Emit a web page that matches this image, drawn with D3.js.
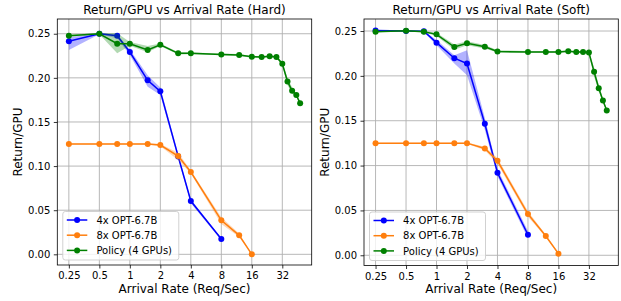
<!DOCTYPE html>
<html>
<head>
<meta charset="utf-8">
<script src="https://cdn.jsdelivr.net/npm/d3@7"></script>
<style>
  html, body { margin: 0; padding: 0; background: #fff; }
  svg { display: block; font-family: "DejaVu Sans", sans-serif; }
</style>
</head>
<body>
<svg id="chart" width="621" height="301"></svg>
<script>
// ---------- data ----------
const xTicks = [0.25, 0.5, 1, 2, 4, 8, 16, 32];
const xTickLabels = ["0.25", "0.5", "1", "2", "4", "8", "16", "32"];
const yTicks = [0, 0.05, 0.10, 0.15, 0.20, 0.25];
const yTickLabels = ["0.00", "0.05", "0.10", "0.15", "0.20", "0.25"];

const seriesNames = ["4x OPT-6.7B", "8x OPT-6.7B", "Policy (4 GPUs)"];
const seriesColors = ["#0000ff", "#ff7f0e", "#008000"];

const rates4x = [0.25, 0.5, 0.75, 1, 1.5, 2, 3, 4, 8];
const rates8x = [0.25, 0.5, 0.75, 1, 1.5, 2, 3, 4, 8, 12, 16];
const ratesPolicy = [0.25, 0.5, 0.75, 1, 1.5, 2, 3, 4, 8, 12, 16, 20, 24, 28, 32, 36, 40, 44, 48];

// Hard
const hard4xMean = [0.2414, 0.2500, 0.2477, 0.2293, 0.1972, 0.1847, 0.1110, 0.0604, 0.0173];
const hard4xLo   = [0.2315, 0.2494, 0.2450, 0.2260, 0.1900, 0.1805, 0.1080, 0.0580, 0.0160];
const hard4xHi   = [0.2460, 0.2506, 0.2490, 0.2320, 0.2030, 0.1890, 0.1140, 0.0625, 0.0185];

const hard8xMean = [0.1250, 0.1250, 0.1250, 0.1250, 0.1250, 0.1238, 0.1114, 0.0933, 0.0385, 0.0215, 0.0000];
const hard8xLo   = [0.1245, 0.1245, 0.1245, 0.1245, 0.1244, 0.1225, 0.1070, 0.0915, 0.0345, 0.0195, 0.0000];
const hard8xHi   = [0.1255, 0.1255, 0.1255, 0.1255, 0.1256, 0.1250, 0.1150, 0.0950, 0.0420, 0.0235, 0.0005];

const hardPolMean = [0.2477, 0.2500, 0.2387, 0.2387, 0.2315, 0.2375, 0.2278, 0.2278, 0.2266, 0.2259, 0.2239, 0.2236, 0.2245, 0.2236, 0.2160, 0.1960, 0.1854, 0.1805, 0.1711];
const hardPolLo   = [0.2465, 0.2494, 0.2280, 0.2365, 0.2290, 0.2360, 0.2265, 0.2268, 0.2256, 0.2249, 0.2229, 0.2226, 0.2235, 0.2226, 0.2140, 0.1920, 0.1820, 0.1785, 0.1695];
const hardPolHi   = [0.2490, 0.2506, 0.2505, 0.2405, 0.2360, 0.2390, 0.2290, 0.2288, 0.2276, 0.2269, 0.2249, 0.2246, 0.2255, 0.2246, 0.2180, 0.2000, 0.1890, 0.1825, 0.1727];

// Soft
const soft4xMean = [0.2505, 0.2500, 0.2497, 0.2370, 0.2197, 0.2137, 0.1466, 0.0920, 0.0229];
const soft4xLo   = [0.2500, 0.2495, 0.2490, 0.2340, 0.2138, 0.2007, 0.1400, 0.0880, 0.0190];
const soft4xHi   = [0.2510, 0.2505, 0.2504, 0.2400, 0.2230, 0.2285, 0.1530, 0.0960, 0.0270];

const soft8xMean = [0.1250, 0.1250, 0.1250, 0.1250, 0.1250, 0.1250, 0.1190, 0.1053, 0.0460, 0.0215, 0.0018];
const soft8xLo   = [0.1246, 0.1246, 0.1246, 0.1246, 0.1246, 0.1244, 0.1170, 0.1020, 0.0430, 0.0200, 0.0010];
const soft8xHi   = [0.1254, 0.1254, 0.1254, 0.1254, 0.1254, 0.1256, 0.1210, 0.1085, 0.0490, 0.0230, 0.0026];

const softPolMean = [0.2492, 0.2503, 0.2492, 0.2463, 0.2322, 0.2363, 0.2325, 0.2272, 0.2267, 0.2267, 0.2267, 0.2275, 0.2267, 0.2267, 0.2260, 0.2045, 0.1863, 0.1726, 0.1615];
const softPolLo   = [0.2485, 0.2497, 0.2485, 0.2445, 0.2290, 0.2340, 0.2305, 0.2260, 0.2257, 0.2257, 0.2257, 0.2265, 0.2257, 0.2257, 0.2245, 0.1990, 0.1830, 0.1705, 0.1600];
const softPolHi   = [0.2500, 0.2509, 0.2500, 0.2480, 0.2350, 0.2385, 0.2345, 0.2285, 0.2277, 0.2277, 0.2277, 0.2285, 0.2277, 0.2277, 0.2275, 0.2090, 0.1900, 0.1750, 0.1630];

const panels = [
  { title: "Return/GPU vs Arrival Rate (Hard)", left: 57.3, right: 311.7, top: 19, bottom: 265,
    yDomain: [-0.0121, 0.2667], ylabelX: 18,
    series: [
      { x: rates4x, m: hard4xMean, lo: hard4xLo, hi: hard4xHi },
      { x: rates8x, m: hard8xMean, lo: hard8xLo, hi: hard8xHi },
      { x: ratesPolicy, m: hardPolMean, lo: hardPolLo, hi: hardPolHi }
    ] },
  { title: "Return/GPU vs Arrival Rate (Soft)", left: 364, right: 618.3, top: 19, bottom: 265.5,
    yDomain: [-0.0114, 0.2634], ylabelX: 325,
    series: [
      { x: rates4x, m: soft4xMean, lo: soft4xLo, hi: soft4xHi },
      { x: rates8x, m: soft8xMean, lo: soft8xLo, hi: soft8xHi },
      { x: ratesPolicy, m: softPolMean, lo: softPolLo, hi: softPolHi }
    ] }
];

// ---------- drawing ----------
const svg = d3.select("#chart");
const xDomain = [Math.pow(2, -2.379), Math.pow(2, 5.964)];

panels.forEach(p => {
  const x = d3.scaleLog().base(2).domain(xDomain).range([p.left, p.right]);
  const y = d3.scaleLinear().domain(p.yDomain).range([p.bottom, p.top]);
  const g = svg.append("g");

  // grid
  g.selectAll(".gx").data(xTicks).join("line")
    .attr("x1", d => x(d)).attr("x2", d => x(d))
    .attr("y1", p.top).attr("y2", p.bottom)
    .attr("stroke", "#b0b0b0").attr("stroke-width", 0.9);
  g.selectAll(".gy").data(yTicks).join("line")
    .attr("x1", p.left).attr("x2", p.right)
    .attr("y1", d => y(d)).attr("y2", d => y(d))
    .attr("stroke", "#b0b0b0").attr("stroke-width", 0.9);

  // series
  p.series.forEach((s, i) => {
    const pts = s.x.map((xv, j) => ({ x: xv, m: s.m[j], lo: s.lo[j], hi: s.hi[j] }));
    const area = d3.area().x(d => x(d.x)).y0(d => y(d.lo)).y1(d => y(d.hi));
    const line = d3.line().x(d => x(d.x)).y(d => y(d.m));
    g.append("path").attr("d", area(pts)).attr("fill", seriesColors[i]).attr("fill-opacity", 0.3);
    g.append("path").attr("d", line(pts)).attr("fill", "none")
      .attr("stroke", seriesColors[i]).attr("stroke-width", 1.5);
    g.selectAll(null).data(pts).join("circle")
      .attr("cx", d => x(d.x)).attr("cy", d => y(d.m)).attr("r", 3)
      .attr("fill", seriesColors[i]);
  });

  // axes
  const xAxis = d3.axisBottom(x).tickValues(xTicks)
    .tickFormat((d, i) => xTickLabels[i]).tickSize(3.5).tickPadding(3.5);
  const yAxis = d3.axisLeft(y).tickValues(yTicks)
    .tickFormat((d, i) => yTickLabels[i]).tickSize(3.5).tickPadding(3.5);
  const gx = g.append("g").attr("transform", `translate(0,${p.bottom})`).call(xAxis);
  const gy = g.append("g").attr("transform", `translate(${p.left},0)`).call(yAxis);
  [gx, gy].forEach(a => {
    a.select(".domain").remove();
    a.selectAll("text").attr("font-size", 10).attr("font-family", "DejaVu Sans").attr("fill", "#000");
    a.selectAll("line").attr("stroke", "#000").attr("stroke-width", 0.8);
  });

  // frame
  g.append("rect").attr("x", p.left).attr("y", p.top)
    .attr("width", p.right - p.left).attr("height", p.bottom - p.top)
    .attr("fill", "none").attr("stroke", "#000").attr("stroke-width", 0.8);

  // title and labels
  g.append("text").attr("x", (p.left + p.right) / 2).attr("y", 14)
    .attr("text-anchor", "middle").attr("font-size", 12).text(p.title);
  g.append("text").attr("x", (p.left + p.right) / 2).attr("y", 293)
    .attr("text-anchor", "middle").attr("font-size", 12).text("Arrival Rate (Req/Sec)");
  g.append("text")
    .attr("transform", `translate(${p.ylabelX + 4},${(p.top + p.bottom) / 2}) rotate(-90)`)
    .attr("text-anchor", "middle").attr("font-size", 12).text("Return/GPU");

  // legend
  const lx = p.left + 5.5, ly = p.bottom - 53.5;
  const lg = g.append("g");
  lg.append("rect").attr("x", lx).attr("y", ly).attr("width", 116).attr("height", 48.5)
    .attr("rx", 2.5).attr("fill", "#fff").attr("fill-opacity", 0.8)
    .attr("stroke", "#cccccc").attr("stroke-width", 0.9);
  seriesNames.forEach((name, i) => {
    const yy = ly + 8.5 + i * 15.2;
    lg.append("line").attr("x1", lx + 4).attr("x2", lx + 24.5).attr("y1", yy).attr("y2", yy)
      .attr("stroke", seriesColors[i]).attr("stroke-width", 1.5);
    lg.append("circle").attr("cx", lx + 14.3).attr("cy", yy).attr("r", 3).attr("fill", seriesColors[i]);
    lg.append("text").attr("x", lx + 33.6).attr("y", yy + 3.6).attr("font-size", 10).text(name);
  });
});
</script>
</body>
</html>
